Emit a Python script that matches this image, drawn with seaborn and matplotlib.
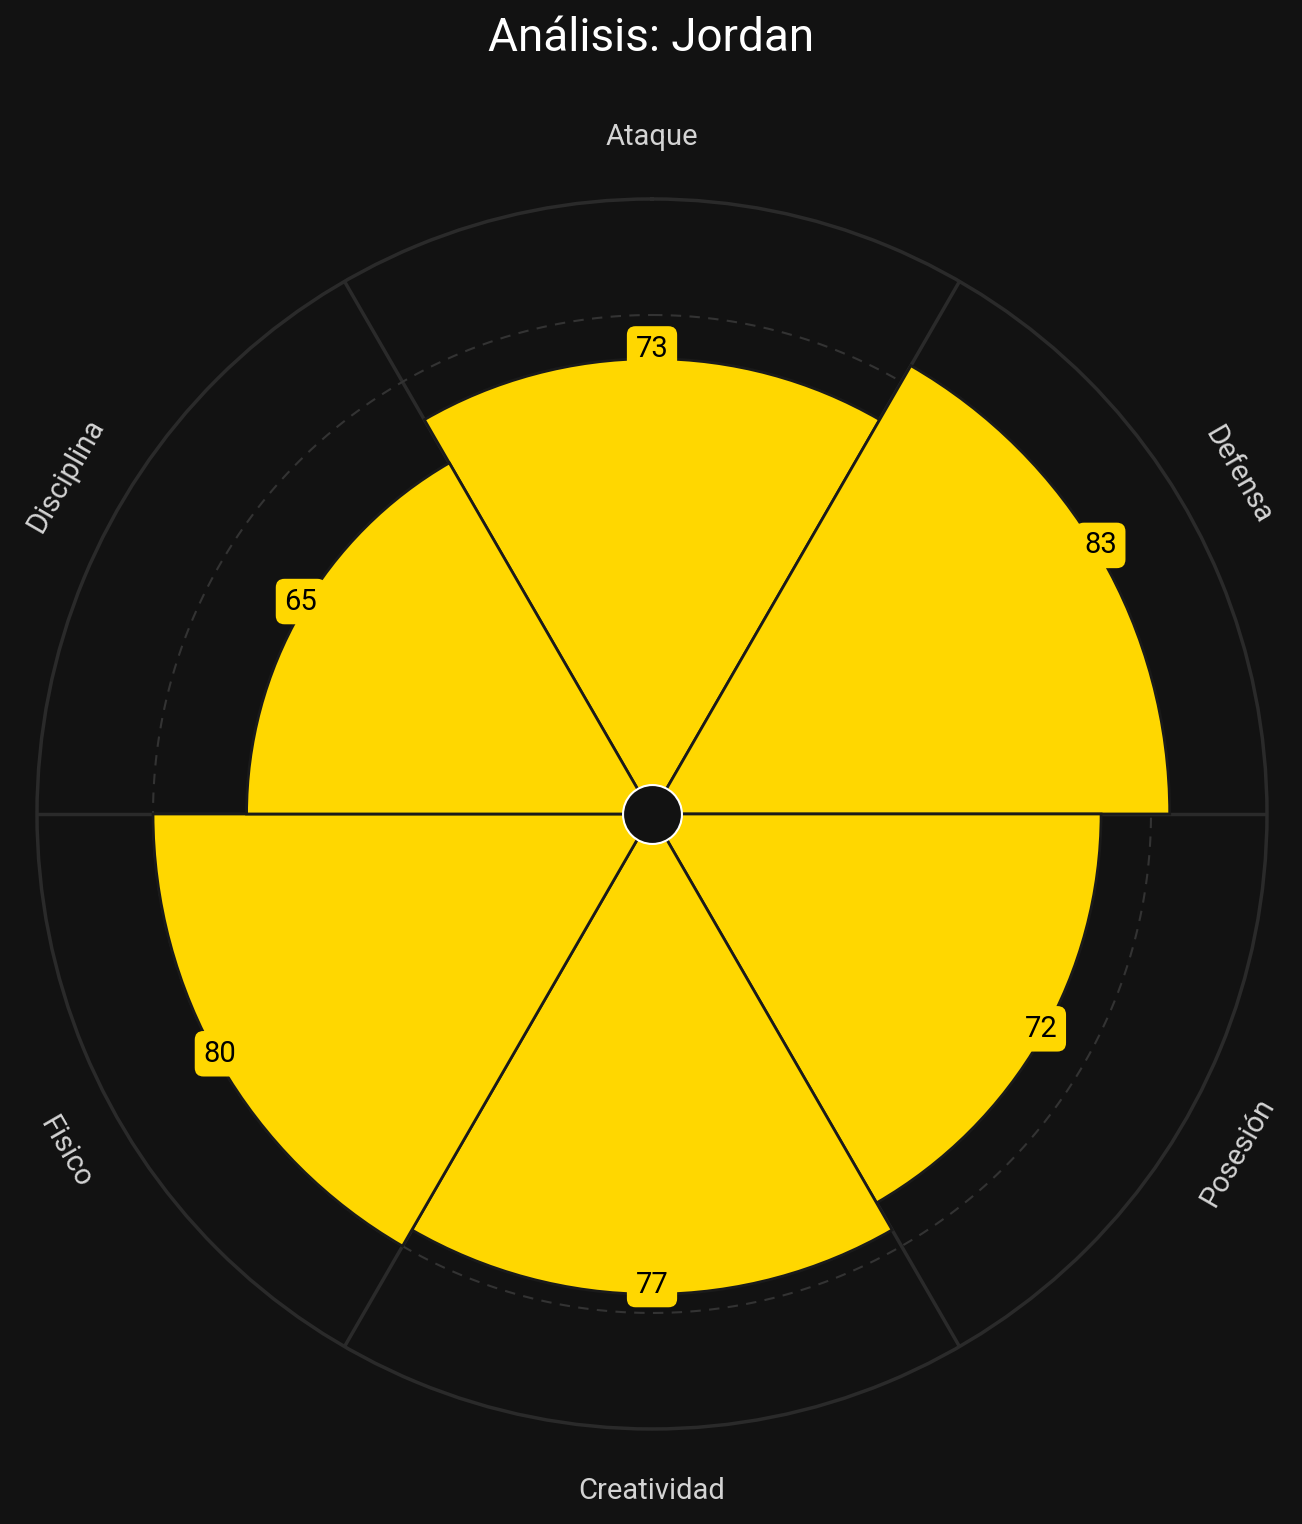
import numpy as np
import matplotlib
matplotlib.use("Agg")
import matplotlib.pyplot as plt
import seaborn as sns

# Data
categories = ["Ataque", "Defensa", "Posesión", "Creatividad", "Fisico", "Disciplina"]
values = [73, 83, 72, 77, 80, 65]
ref_level = 80
player = "Jordan"

bg = "#121212"
gold = "#FFD700"
grid_col = "#2a2a2a"

sns.set_theme(style="dark")
plt.rcParams["font.family"] = ["Roboto", "DejaVu Sans"]

fig = plt.figure(figsize=(13.02, 15.24), dpi=100, facecolor=bg)
ax = fig.add_axes([0.02842, 0.06234, 0.9447, 0.8071], projection="polar")
ax.set_facecolor(bg)
ax.set_theta_offset(np.pi / 2)
ax.set_theta_direction(-1)

n = len(categories)
angles = np.arange(n) * 2 * np.pi / n
width = 2 * np.pi / n

ax.set_axisbelow(True)
ax.bar(angles, values, width=width, color=gold, edgecolor="#1a1a1a",
       linewidth=2, zorder=2)

# reference ring
t = np.linspace(0, 2 * np.pi, 400)
ax.plot(t, [ref_level] * len(t), color="#333333", lw=1.5, ls=(0, (5, 4)), zorder=1)

# grid: spokes at sector boundaries
ax.set_xticks(angles + width / 2)
ax.set_xticklabels([])
ax.xaxis.grid(True, color=grid_col, lw=2.5)
ax.yaxis.grid(False)
ax.set_yticks([])
ax.set_ylim(0, 98.6)
ax.spines["polar"].set_color(grid_col)
ax.spines["polar"].set_linewidth(2.5)
ax.tick_params(length=0)

# category labels
for ang, cat in zip(angles, categories):
    math_deg = 90 - np.degrees(ang)
    rot = (math_deg - 90) % 360
    if rot > 90 and rot <= 270:
        rot -= 180
    if rot > 180:
        rot -= 360
    ax.text(ang, 108.5, cat, rotation=rot, rotation_mode="anchor",
            ha="center", va="center", color="#d4d4d4", fontsize=21,
            clip_on=False)

# value labels
for ang, v in zip(angles, values):
    ax.annotate(str(v), xy=(ang, v), xytext=(0, 7), textcoords="offset points",
                ha="center", va="center", color="black", fontsize=21, zorder=5,
                bbox=dict(boxstyle="round,pad=0.3,rounding_size=0.3",
                          fc=gold, ec="none"))

# center hole
ax.scatter([0], [0], s=1800, color=bg, edgecolor="white", linewidth=1.5, zorder=6)

fig.text(0.5, 1 - 38 / 1524, f"Análisis: {player}", ha="center", va="center",
         color="white", fontsize=33)

fig.savefig("out.png", dpi=100, facecolor=bg)
